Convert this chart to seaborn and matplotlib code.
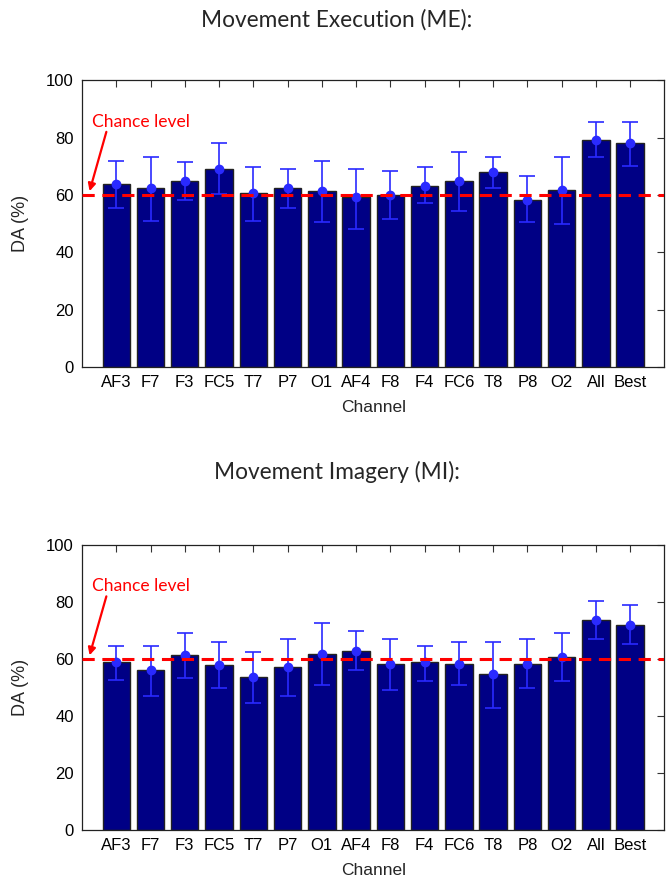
import numpy as np
import pandas as pd
import matplotlib
matplotlib.use("Agg")
import matplotlib.pyplot as plt
import seaborn as sns

sns.set_style("white")
plt.rcParams["font.family"] = ["Liberation Sans", "DejaVu Sans"]

channels = ["AF3", "F7", "F3", "FC5", "T7", "P7", "O1", "AF4",
            "F8", "F4", "FC6", "T8", "P8", "O2", "All", "Best"]

# Movement execution: mean DA and error-bar extents (%)
me_mean = [63.7, 62.5, 64.8, 69.2, 60.8, 62.5, 61.4, 59.2,
           60.0, 63.0, 64.8, 67.9, 58.2, 61.8, 79.2, 78.1]
me_upper = [72.0, 73.3, 71.5, 78.1, 69.8, 69.1, 72.0, 69.2,
            68.3, 69.8, 75.1, 73.3, 66.5, 73.3, 85.6, 85.6]
me_lower = [55.3, 51.0, 58.2, 60.3, 51.0, 55.3, 50.6, 48.1,
            51.7, 57.1, 54.5, 62.5, 50.6, 49.9, 73.3, 70.1]

# Movement imagery: mean DA and error-bar extents (%)
mi_mean = [59.1, 56.1, 61.5, 57.9, 53.6, 57.2, 61.9, 62.9,
           58.3, 59.1, 58.3, 54.7, 58.3, 60.8, 73.8, 71.9]
mi_upper = [64.7, 64.7, 69.0, 66.1, 62.5, 67.2, 72.6, 69.8,
            67.2, 64.7, 66.1, 66.1, 67.2, 69.0, 80.2, 79.0]
mi_lower = [52.7, 47.1, 53.5, 49.9, 44.4, 47.1, 51.0, 56.3,
            49.2, 52.3, 51.0, 42.7, 49.9, 52.3, 67.2, 65.4]

chance_level = 60
titles = ["Movement Execution (ME):", "Movement Imagery (MI):"]

bar_color = "#000085"
err_color = "#2a2aff"

fig = plt.figure(figsize=(6.67, 8.82), dpi=100)
ax_top = fig.add_axes([0.123, 0.584, 0.873, 0.325])
ax_bot = fig.add_axes([0.123, 0.059, 0.873, 0.323])

panels = [
    (ax_top, me_mean, me_lower, me_upper, 0.977),
    (ax_bot, mi_mean, mi_lower, mi_upper, 0.465),
]

for (ax, mean, lower, upper, ty), title in zip(panels, titles):
    df = pd.DataFrame({"Channel": channels, "DA": mean})
    sns.barplot(data=df, x="Channel", y="DA", color=bar_color, width=0.8,
                edgecolor="#222222", linewidth=1.0, saturation=1, ax=ax)
    x = np.arange(len(channels))
    m = np.array(mean)
    yerr = [m - np.array(lower), np.array(upper) - m]
    ax.errorbar(x, m, yerr=yerr, fmt="o", color=err_color, ecolor=err_color,
                elinewidth=1.2, capsize=6, capthick=1.2, markersize=6, zorder=5)
    ax.axhline(chance_level, color="#ff0000", linestyle=(0, (4, 2.5)),
               linewidth=2.2, zorder=6)

    ax.set_xlim(-1, len(channels))
    ax.set_ylim(0, 100)
    ax.set_yticks([0, 20, 40, 60, 80, 100])
    ax.tick_params(axis="both", direction="in", length=5, width=0.8,
                   labelsize=12, top=True, right=True, colors="#333333",
                   labelcolor="black", pad=6)
    ax.set_xlabel("Channel", fontsize=12.5, labelpad=7)
    ax.set_ylabel("DA (%)", fontsize=13, labelpad=12)
    for s in ax.spines.values():
        s.set_color("#222222")
        s.set_linewidth(0.9)
        s.set_visible(True)

    ax.text(-0.71, 85.5, "Chance level", color="#ff0000", fontsize=12.6,
            family=["Lato", "DejaVu Sans"], ha="left", va="center")
    ax.annotate("", xy=(-0.78, 61.3), xytext=(-0.29, 82.0),
                arrowprops=dict(arrowstyle="-|>", color="#ff0000", lw=1.6,
                                mutation_scale=11, shrinkA=0, shrinkB=0))

    fig.text(0.505, ty, title, ha="center", va="center", fontsize=16.3,
             family=["Lato", "DejaVu Sans"])

fig.savefig("out.png", dpi=100)
